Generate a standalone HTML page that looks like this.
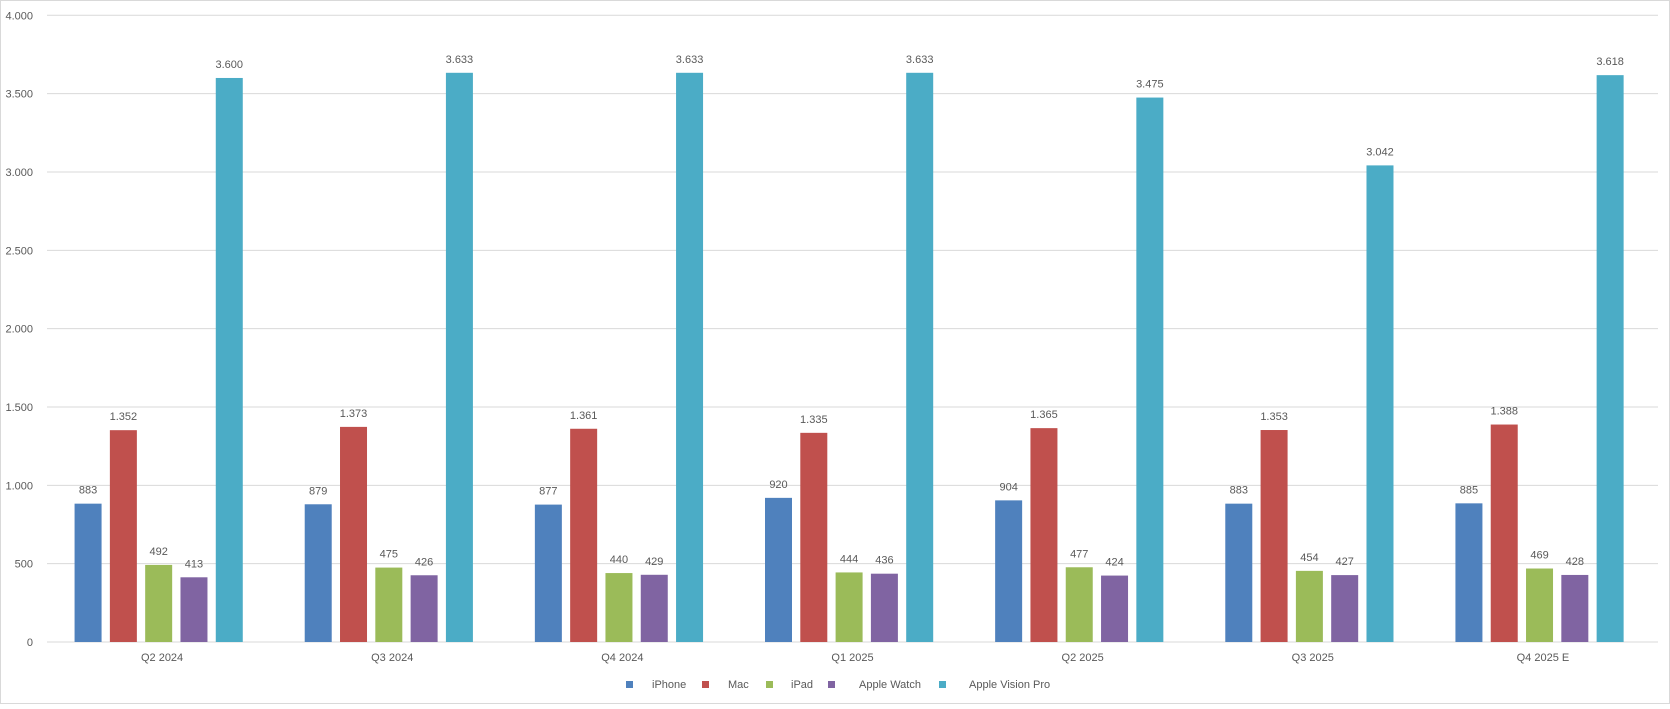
<!DOCTYPE html>
<html><head><meta charset="utf-8"><style>
body{margin:0;background:#fff}
svg text{font-family:"Liberation Sans",sans-serif;fill:#595959}
</style></head><body>
<svg width="1670" height="704" xmlns="http://www.w3.org/2000/svg">
<rect x="0.5" y="0.5" width="1669" height="703" fill="#fff" stroke="#d9d9d9"/>
<g id="g"></g>
</svg>
<script>
const g=document.getElementById('g');
const NS='http://www.w3.org/2000/svg';
function el(t,a,txt){const e=document.createElementNS(NS,t);for(const k in a)e.setAttribute(k,a[k]);if(txt!==undefined)e.textContent=txt;g.appendChild(e);return e;}
function fmt(v){return v>=1000?(v/1000).toFixed(3):String(v);}
const y0=642,k=626.7/4000,xl=47,xr=1658;
for(let v=0;v<=4000;v+=500){const y=y0-v*k;
el('line',{x1:xl,x2:xr,y1:y,y2:y,stroke:'#d9d9d9','stroke-width':1});
el('text',{x:33,y:y+4,'font-size':11,'text-anchor':'end'},fmt(v));}
const cats=['Q2 2024','Q3 2024','Q4 2024','Q1 2025','Q2 2025','Q3 2025','Q4 2025 E'];
const data=[[883,1352,492,413,3600],[879,1373,475,426,3633],[877,1361,440,429,3633],[920,1335,444,436,3633],[904,1365,477,424,3475],[883,1353,454,427,3042],[885,1388,469,428,3618]];
const cols=['#4f81bd','#c0504d','#9bbb59','#8064a2','#4bacc6'];
const cw=(xr-xl)/7;
data.forEach((d,i)=>{const c=xl+cw*(i+0.5);
d.forEach((v,j)=>{const x=c-87.5+j*35.3;const h=v*k;
el('rect',{x:x,y:y0-h,width:27,height:h,fill:cols[j]});
el('text',{x:x+13.5,y:y0-h-10,'font-size':11,'text-anchor':'middle'},fmt(v));});
el('text',{x:c,y:661,'font-size':11,'text-anchor':'middle'},cats[i]);});
const leg=[['iPhone',626,652],['Mac',702,728],['iPad',766,791],['Apple Watch',828,859],['Apple Vision Pro',939,969]];
leg.forEach((l,j)=>{el('rect',{x:l[1],y:681,width:7,height:7,fill:cols[j]});el('text',{x:l[2],y:688,'font-size':11},l[0]);});
</script>
</body></html>
